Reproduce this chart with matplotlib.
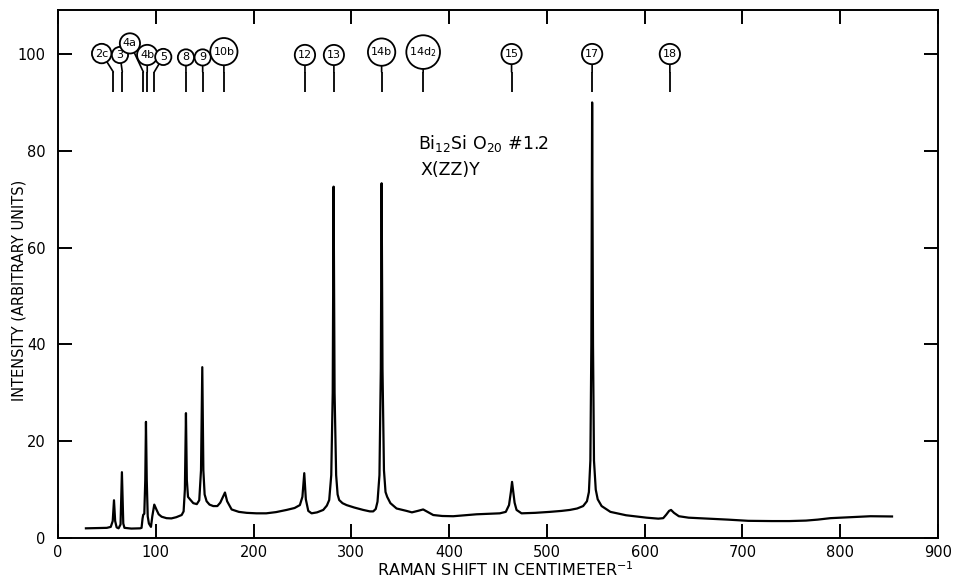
import numpy as np
import matplotlib
matplotlib.use('Agg')
import matplotlib.pyplot as plt

# Raman spectrum, traced (shift in cm^-1, intensity in arbitrary units)
shift = [28.6, 40, 50, 54, 56, 57.3, 58.5, 60, 62, 64, 65.4, 66.8, 68, 75, 84,
         85.5, 86.5, 87.2, 88.3, 89.3, 90.0, 90.8, 91.8, 93.0, 95.1, 96.5, 98.5,
         100.9, 103, 106, 111, 116, 121, 126.5, 128.5, 129.8, 130.9, 131.8, 133,
         135, 138.4, 142, 144.5, 146.3, 147.6, 148.7, 150, 152, 155, 158.8, 163,
         166, 168.5, 170.8, 173, 177.6, 185, 193, 203, 213, 223, 233.8, 242,
         247.4, 250, 251.9, 253.5, 256, 259.4, 265, 271.3, 275, 277.4, 279.5,
         281, 281.9, 282.9, 284.5, 286, 287.6, 291, 295.2, 303, 312.2, 319, 322.4,
         325, 326.8, 328.8, 330.2, 331, 331.9, 333.4, 335, 336.7, 340, 346.3,
         356.5, 362, 368, 373.5, 378, 383.8, 393, 404.2, 416, 428.1, 440, 451.9,
         458, 461.3, 463.2, 464.4, 465.5, 467, 469, 474.1, 488, 503, 515, 523.5,
         531, 537.1, 541, 543, 544.5, 545.5, 546.3, 547.2, 548.2, 550, 552, 556,
         565, 581, 602, 614, 619, 622, 625, 627, 630, 635, 645, 665, 685, 706,
         730, 748, 765, 777, 790, 810, 831, 853]
intensity = [2.0, 2.05, 2.1, 2.3, 3.5, 7.8, 3.5, 2.2, 2.0, 2.8, 13.6, 3.0, 2.1, 1.95, 2.0,
             2.1, 4.0, 4.8, 5.0, 12, 24.0, 12, 4.5, 3.0, 2.3, 4.5, 6.9,
             5.8, 4.9, 4.4, 4.1, 4.05, 4.3, 4.75, 5.5, 10, 25.8, 12, 8.5,
             8.0, 7.2, 7.0, 7.8, 14, 35.3, 14, 9, 7.6, 6.9, 6.6, 6.6,
             7.3, 8.4, 9.4, 7.6, 5.9, 5.4, 5.2, 5.1, 5.1, 5.35, 5.8, 6.2,
             6.8, 8.5, 13.4, 8.0, 5.6, 5.1, 5.3, 5.8, 6.7, 7.85, 13,
             30, 72.6, 30, 13, 9, 7.85, 7.2, 6.8, 6.3, 5.8, 5.5, 5.5,
             6.0, 7.5, 13, 35, 73.3, 35, 14, 9.5, 8.5, 7.2, 6.1,
             5.6, 5.3, 5.6, 5.9, 5.4, 4.75, 4.55, 4.5, 4.7, 4.9, 5.0, 5.1,
             5.4, 6.8, 9.5, 11.6, 9.8, 7.3, 5.8, 5.1, 5.2, 5.4, 5.6, 5.8,
             6.1, 6.6, 7.6, 9.5, 16, 40, 90.0, 40, 16, 10.0, 8.0, 6.6,
             5.4, 4.7, 4.2, 4.0, 4.1, 4.8, 5.6, 5.8, 5.2, 4.5, 4.2, 4.0, 3.8, 3.55,
             3.5, 3.5, 3.6, 3.8, 4.1, 4.3, 4.5, 4.45]

# mode assignments: label, tick position, label centre
mode_labels = ['2c', '3', '4a', '4b', '5', '8', '9', '10b', '12', '13', '14b',
               '14d$_2$', '15', '17', '18']
mode_pos = [56.6, 65.8, 87.3, 91.3, 98.5, 130.9, 148, 169.7, 252.6, 282.2,
            331, 373.5, 463.9, 546.3, 625.8]
label_x = [44.7, 63.4, 73.6, 91.3, 107.7, 130.9, 148, 169.7, 252.6, 282.2,
           331, 373.5, 463.9, 546.3, 625.8]
label_y = [100.1, 99.8, 102.2, 99.8, 99.4, 99.3, 99.3, 100.5, 99.8, 99.8,
           100.4, 100.4, 100.0, 100.0, 100.0]

fig = plt.figure(figsize=(9.58, 5.8), dpi=100)
ax = fig.add_axes([0.0605, 0.0724, 0.9186, 0.9112])

ax.plot(shift, intensity, color='black', lw=1.6, solid_joinstyle='round')

ax.vlines(mode_pos, 92.1, 96.3, color='black', lw=1.3)
for lab, xp, xl, yl in zip(mode_labels, mode_pos, label_x, label_y):
    ax.annotate(lab, xy=(xp, 96.3), xytext=(xl, yl), ha='center', va='center',
                fontsize=8,
                bbox=dict(boxstyle='circle,pad=0.28', fc='white', ec='black', lw=1.3),
                arrowprops=dict(arrowstyle='-', color='black', lw=1.2,
                                shrinkA=0, shrinkB=0))

ax.text(368, 81.6, r'Bi$_{12}$Si O$_{20}$ #1.2', fontsize=12.5, va='center')
ax.text(371, 76.0, 'X(ZZ)Y', fontsize=12.5, va='center')

ax.set_xlim(0, 900)
ax.set_ylim(0, 109.2)
ax.set_xticks(np.arange(0, 901, 100))
ax.set_yticks(np.arange(0, 101, 20))
ax.tick_params(direction='in', length=10, width=1.4, top=True, right=True,
               labelsize=10.5)
ax.tick_params(axis='y', pad=9)
ax.tick_params(axis='x', pad=5)
for s in ax.spines.values():
    s.set_linewidth(1.4)

ax.set_xlabel('RAMAN SHIFT IN CENTIMETER$^{-1}$', fontsize=11.5)
ax.set_ylabel('INTENSITY (ARBITRARY UNITS)', fontsize=10.5)
ax.xaxis.set_label_coords(0.508, -0.042)
ax.yaxis.set_label_coords(-0.036, 0.469)

fig.savefig('out.png', dpi=100)
